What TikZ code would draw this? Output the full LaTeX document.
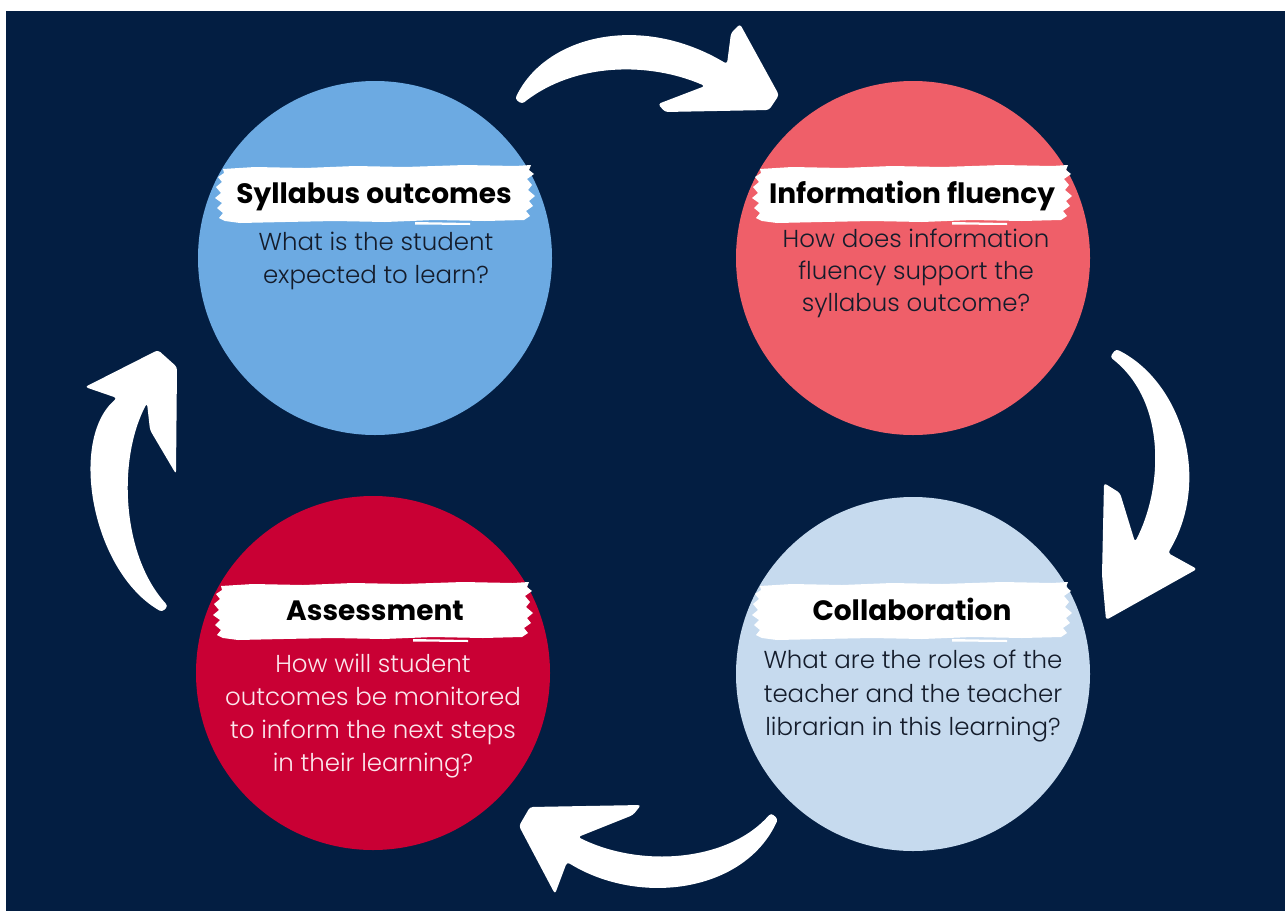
\documentclass[tikz,border=0pt]{standalone}
\usepackage{fontspec}
\setmainfont{Poppins}
\newfontfamily\bodyfont{Poppins Light}
\definecolor{navy}{HTML}{031E42}
\definecolor{sylblue}{HTML}{6CAAE2}
\definecolor{infored}{HTML}{EF5F69}
\definecolor{assred}{HTML}{C90034}
\definecolor{colblue}{HTML}{C6DAEE}
\definecolor{darktext}{HTML}{141C2B}
\definecolor{pinktext}{HTML}{FBE6EC}
\tikzset{
  disc/.style={circle, minimum size=354pt, inner sep=0pt, draw=none},
  titletext/.style={font=\fontsize{28}{32}\selectfont\bfseries, text=black, anchor=base, inner sep=0pt},
  bodytext/.style={font=\bodyfont\fontsize{24.5}{33}\selectfont, anchor=base, inner sep=0pt, text=darktext},
  arrowfill/.style={fill=white, rounded corners=3pt},
  brush/.pic={
    \fill[white] (-152,-25) -- (-120,-27) -- (-70,-26) -- (-20,-28) -- (30,-27) -- (90,-29) -- (140,-28) -- (156,-29)
      -- (154,-24) -- (159,-20) -- (152,-15) -- (157,-9) -- (153,-4) -- (160,2) -- (154,7) -- (158,12) -- (151,17) -- (155,22) -- (149,26)
      -- (110,27) -- (60,26) -- (10,28) -- (-40,27) -- (-90,28) -- (-135,29) -- (-150,27)
      -- (-156,24) -- (-152,19) -- (-158,14) -- (-153,9) -- (-160,4) -- (-154,-1) -- (-159,-7) -- (-153,-12) -- (-157,-17) -- (-151,-21) -- cycle;
    \fill[white] (40,28) -- (95,29) -- (95,31) -- (40,30.5) -- cycle;
    \fill[white] (112,16) -- (125,16) -- (125,17.5) -- (112,17.5) -- cycle;
  }
}
\begin{document}
\begin{tikzpicture}[x=1pt,y=-1pt]
\useasboundingbox (0,0) rectangle (1285,911);
\fill[white] (0,0) rectangle (1285,911);
\fill[navy] (6,11) rectangle (1285,911);

% circles
\node[disc, fill=sylblue] (syl) at (375,258) {};
\node[disc, fill=infored] (inf) at (913,258) {};
\node[disc, fill=assred] (ass) at (373,673) {};
\node[disc, fill=colblue] (col) at (913,674) {};

% brush strokes
\pic (b1) at (375,194) {brush};
\pic (b2) at (912,194) {brush};
\pic (b3) at (373,611) {brush};
\pic (b4) at (912,611) {brush};

% titles
\node[titletext] (t1) at (374,203) {Syllabus outcomes};
\node[titletext] (t2) at (912,203) {Information fluency};
\node[titletext] (t3) at (375,620) {Assessment};
\node[titletext] (t4) at (912,620) {Collaboration};

% body text
\node[bodytext] (s1) at (376,250) {What is the student};
\node[bodytext] (s2) at (376,283) {expected to learn?};

\node[bodytext] (i1) at (916,247) {How does information};
\node[bodytext] (i2) at (916,279) {fluency support the};
\node[bodytext] (i3) at (916,311) {syllabus outcome?};

\node[bodytext, text=pinktext] (a1) at (373,672) {How will student};
\node[bodytext, text=pinktext] (a2) at (373,705) {outcomes be monitored};
\node[bodytext, text=pinktext] (a3) at (373,738) {to inform the next steps};
\node[bodytext, text=pinktext] (a4) at (373,771) {in their learning?};

\node[bodytext] (c1) at (913,668) {What are the roles of the};
\node[bodytext] (c2) at (913,702) {teacher and the teacher};
\node[bodytext] (c3) at (913,735) {librarian in this learning?};

% arrows
\fill[arrowfill] (515,99) .. controls (545,36) and (640,12) .. (727,64) -- (731,33) -- (740,24) -- (779,95) -- (769,110) -- (665,112) -- (658,104) -- (705,86) .. controls (650,62) and (575,62) .. (522,104) -- cycle;
\fill[arrowfill] (1116,349) .. controls (1182,382) and (1212,480) .. (1168,553) -- (1197,569) -- (1106,620) -- (1102,575) -- (1104,483) -- (1120,493) -- (1135,542) .. controls (1162,490) and (1168,402) .. (1110,357) -- cycle;
\fill[arrowfill] (778,819) .. controls (745,892) and (640,907) .. (567,862) -- (555,894) -- (519,826) -- (530,807) -- (641,805) -- (633,815) -- (578,837) .. controls (640,868) and (728,862) .. (771,813) -- cycle;
\fill[arrowfill] (162,612) .. controls (92,572) and (68,440) .. (117,398) -- (85,387) -- (158,350) -- (177,367) -- (176,474) -- (150,430) -- (147,403) .. controls (117,460) and (122,556) .. (168,606) -- cycle;
\end{tikzpicture}
\end{document}
